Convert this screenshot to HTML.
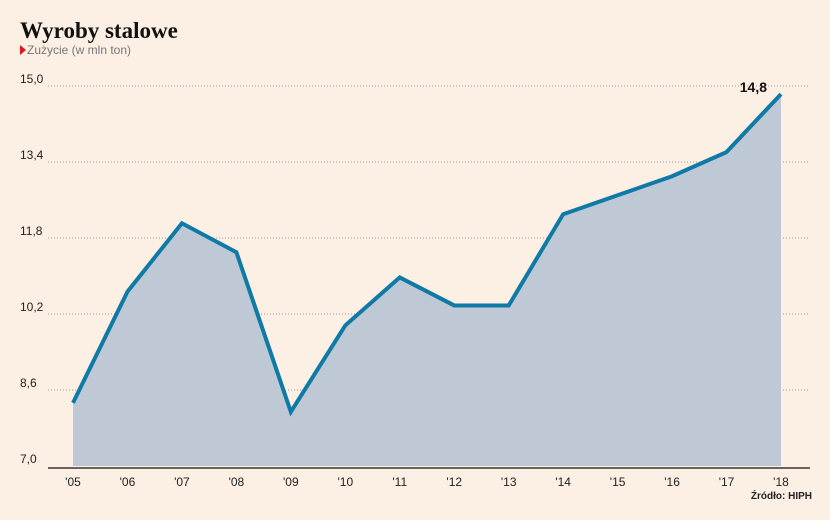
<!DOCTYPE html>
<html><head><meta charset="utf-8"><style>
body{margin:0;background:#fcefe3;}
svg{display:block;font-family:"Liberation Sans",sans-serif;}
</style></head><body>
<svg width="830" height="520" viewBox="0 0 830 520">
<rect width="830" height="520" fill="#fcefe3"/>
<text x="20" y="38" font-family="Liberation Serif,serif" font-weight="bold" font-size="23" fill="#111">Wyroby stalowe</text>
<path d="M20 45 L26 50 L20 55 Z" fill="#e0161b"/>
<text x="27" y="54" font-size="12" fill="#777">Zużycie (w mln ton)</text>
<g id="grid"></g>
<g id="plot"></g>
<text x="812" y="499" text-anchor="end" font-size="10" font-weight="bold" fill="#222">Źródło: HIPH</text>
</svg>
<script>
const categories=["'05","'06","'07","'08","'09","'10","'11","'12","'13","'14","'15","'16","'17","'18"];
const values=[8.33,10.67,12.11,11.5,8.14,9.96,10.97,10.38,10.38,12.3,12.7,13.1,13.61,14.83];
const yTicks=[7.0,8.6,10.2,11.8,13.4,15.0];
const yTickLabels=["7,0","8,6","10,2","11,8","13,4","15,0"];
const lastLabel="14,8";
const NS="http://www.w3.org/2000/svg";
const x0=73,x1=781,yMin=7,yMax=15,py0=466,py1=86;
const xs=i=>x0+i*(x1-x0)/(categories.length-1);
const ys=v=>py0-(v-yMin)/(yMax-yMin)*(py0-py1);
function mk(tag,attrs,parent){const e=document.createElementNS(NS,tag);for(const k in attrs)e.setAttribute(k,attrs[k]);parent.appendChild(e);return e;}
const grid=document.getElementById('grid'),plot=document.getElementById('plot');
yTicks.forEach((t,i)=>{
  const y=ys(t);
  if(i>0){const l=mk('line',{x1:48,x2:810,y1:y,y2:y,stroke:'#999','stroke-width':1,'stroke-dasharray':'1,2'},grid);
  
  }
  const tx=mk('text',{x:20,y:y-3,'font-size':12,fill:'#222'},grid);
  tx.textContent=yTickLabels[i];
  
  
});
let d='M'+xs(0)+' '+ys(yMin);
values.forEach((v,i)=>d+=' L'+xs(i)+' '+ys(v));
d+=' L'+xs(values.length-1)+' '+ys(yMin)+' Z';
const area=mk('path',{d:d,fill:'#bfc9d6'},plot);


const line=mk('polyline',{points:values.map((v,i)=>xs(i)+','+ys(v)).join(' '),fill:'none',stroke:'#0f7aa6','stroke-width':4,'stroke-linejoin':'miter'},plot);


const base=mk('line',{x1:48,x2:810,y1:468,y2:468,stroke:'#111','stroke-width':1.2},plot);


categories.forEach((c,i)=>{
  const t=mk('text',{x:xs(i),y:486,'text-anchor':'middle','font-size':12,fill:'#222'},plot);
  t.textContent=c;
  
  
});
const n=values.length-1;
const lab=mk('text',{x:xs(n)-14,y:ys(values[n])-2,'text-anchor':'end','font-size':14,'font-weight':'bold',fill:'#111'},plot);
lab.textContent=lastLabel;


</script>
</body></html>
